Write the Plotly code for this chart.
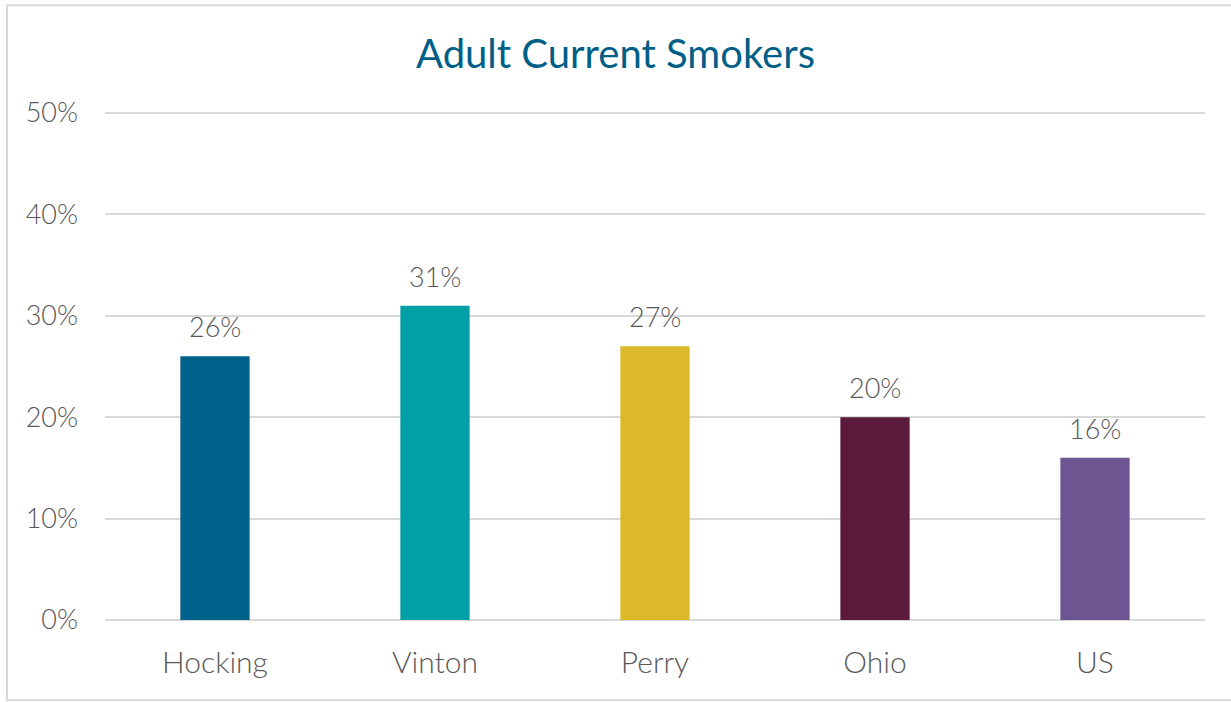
import plotly.graph_objects as go

categories = ["Hocking", "Vinton", "Perry", "Ohio", "US"]
values = [26, 31, 27, 20, 16]
colors = ["#00628B", "#00A0A6", "#DBB928", "#5B1A3B", "#6D5591"]
tick_vals = [0, 10, 20, 30, 40, 50]
tick_text = ["0%", "10%", "20%", "30%", "40%", "50%"]

FONT = "Lato"
GRAY = "#595959"

fig = go.Figure(
    go.Bar(
        x=categories,
        y=values,
        marker=dict(color=colors, line=dict(width=0)),
        width=0.315,
        hoverinfo="x+y",
    )
)

# value labels above each bar
for cat, v in zip(categories, values):
    fig.add_annotation(
        x=cat,
        y=v,
        text=f"{v}%",
        showarrow=False,
        yanchor="bottom",
        yshift=11,
        font=dict(family=FONT, size=27, color=GRAY, weight=300),
    )

L, R, T, B = 105, 26, 113, 82
W, H = 1231, 702
pw, ph = W - L - R, H - T - B


def px_x(p):
    return (p - L) / pw


def px_y(p):
    return (H - B - p) / ph


fig.update_layout(
    width=W,
    height=H,
    margin=dict(l=L, r=R, t=T - 1, b=B),
    paper_bgcolor="white",
    plot_bgcolor="white",
    showlegend=False,
    bargap=0.685,
    title=dict(
        text="Adult Current Smokers",
        x=0.5,
        xanchor="center",
        y=1 - 54 / H,
        yanchor="middle",
        font=dict(family=FONT, size=40, color="#005F86"),
    ),
    xaxis=dict(
        showgrid=False,
        showline=False,
        ticks="",
        tickfont=dict(family=FONT, size=30, color=GRAY, weight=300),
        ticklabelstandoff=22,
    ),
    yaxis=dict(
        range=[0, 50.1],
        tickvals=tick_vals,
        ticktext=tick_text,
        showgrid=True,
        gridcolor="#D9D9D9",
        gridwidth=2,
        zeroline=True,
        zerolinecolor="#D9D9D9",
        zerolinewidth=2,
        showline=False,
        ticks="",
        tickfont=dict(family=FONT, size=27, color=GRAY, weight=300),
        ticklabelstandoff=26,
    ),
    shapes=[
        dict(
            type="rect",
            xref="paper",
            yref="paper",
            x0=px_x(7),
            x1=px_x(1240),
            y0=px_y(700),
            y1=px_y(6.5),
            line=dict(color="#D9D9D9", width=2),
            fillcolor="rgba(0,0,0,0)",
            layer="below",
        )
    ],
)

fig.write_html("out.html")
